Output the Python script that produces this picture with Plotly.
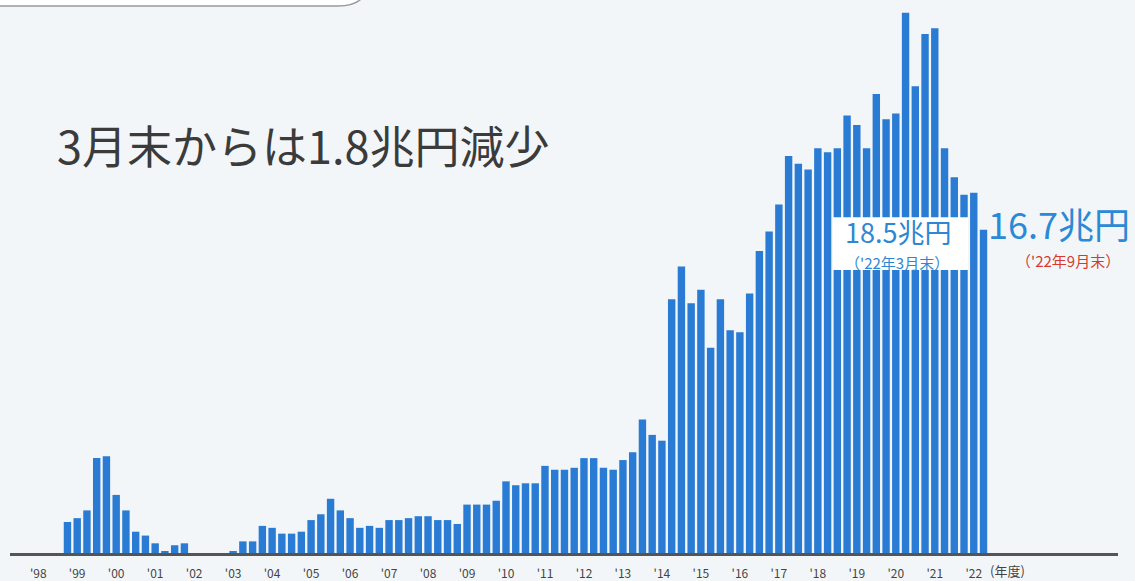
import plotly.graph_objects as go

# Quarter-end balances (兆円), from end of Mar 1999 to end of Sep 2022
balances = [
    1.6, 1.8, 2.2, 4.9, 5.0, 3.0, 2.2, 1.1, 0.9, 0.5,
    0.1, 0.4, 0.5, 0.0, 0.0, 0.0, 0.0, 0.1, 0.6, 0.6,
    1.4, 1.3, 1.0, 1.0, 1.1, 1.7, 2.0, 2.8, 2.2, 1.8,
    1.3, 1.4, 1.3, 1.7, 1.7, 1.8, 1.9, 1.9, 1.7, 1.7,
    1.5, 2.5, 2.5, 2.5, 2.7, 3.7, 3.5, 3.6, 3.6, 4.5,
    4.3, 4.3, 4.4, 4.9, 4.9, 4.4, 4.3, 4.8, 5.2, 6.9,
    6.1, 5.8, 13.1, 14.8, 12.9, 13.6, 10.6, 13.1, 11.5, 11.4,
    13.4, 15.6, 16.6, 18.0, 20.5, 20.1, 19.8, 20.9, 20.7, 20.9,
    22.6, 22.1, 20.9, 23.7, 22.4, 22.7, 27.9, 24.1, 26.8, 27.1,
    20.9, 19.4, 18.5, 18.6, 16.7,
]

# quarter ends (year, month) matching the balances above
quarter_ends = []
year, month = 1999, 3
while (year, month) <= (2022, 9):
    quarter_ends.append((year, month))
    month += 3
    if month > 12:
        month, year = 3, year + 1

tick_years = list(range(1998, 2023))
tick_labels = ["'" + str(y)[2:] for y in tick_years]

# x position in years, with June of each year sitting on the integer
x_pos = [y + (m - 6) / 12 for y, m in quarter_ends]
hover = [f"{y}年{m}月末" for y, m in quarter_ends]

FONT = "Noto Sans CJK JP, Noto Sans, sans-serif"
BLUE = "#2a7bd3"

# pixel helpers for layout decorations (plot area: left 10px, width 1108px, height 555px)
def fx(px):
    return (px - 10) / 1108

def fy(py):
    return 1 - py / 555

fig = go.Figure(
    go.Bar(
        x=x_pos,
        y=balances,
        width=0.19,
        marker=dict(color=BLUE, line=dict(width=0)),
        hovertext=hover,
        hovertemplate="%{hovertext}: %{y}兆円<extra></extra>",
    )
)

fig.update_layout(
    width=1135,
    height=581,
    margin=dict(l=10, r=17, t=0, b=26),
    paper_bgcolor="#f3f6f9",
    plot_bgcolor="rgba(0,0,0,0)",
    showlegend=False,
    font=dict(family=FONT, color="#3b3b3b"),
    xaxis=dict(
        range=[1997.276, 2025.70],
        tickmode="array",
        tickvals=tick_years,
        ticktext=tick_labels,
        tickfont=dict(size=12, color="#444444"),
        ticks="",
        ticklabelstandoff=8,
        showline=True,
        linecolor="#555555",
        linewidth=2.5,
        showgrid=False,
        zeroline=False,
        fixedrange=True,
    ),
    yaxis=dict(
        range=[0, 28.56],
        visible=False,
        fixedrange=True,
    ),
    shapes=[
        # header tab clipped at the top edge
        dict(
            type="path",
            xref="paper", yref="paper",
            path=(
                f"M {fx(-20)},{fy(-40)} L {fx(-20)},{fy(6)} L {fx(338)},{fy(6)} "
                f"Q {fx(360)},{fy(6)} {fx(366)},{fy(-8)} L {fx(372)},{fy(-40)} Z"
            ),
            fillcolor="#ffffff",
            line=dict(color="#9a9a9a", width=1.5),
            layer="above",
        ),
        # white label panel over the bars
        dict(
            type="rect",
            xref="paper", yref="paper",
            x0=fx(833), x1=fx(968), y0=fy(271), y1=fy(218),
            fillcolor="#ffffff",
            line=dict(width=0),
            layer="above",
        ),
    ],
    annotations=[
        dict(
            text="3月末からは1.8兆円減少",
            xref="paper", yref="paper", x=fx(55), y=fy(145),
            xanchor="left", yanchor="middle", showarrow=False,
            font=dict(size=45, color="#3b3b3b", family=FONT),
        ),
        dict(
            text="18.5兆円",
            xref="paper", yref="paper", x=fx(898), y=fy(253),
            xanchor="center", yanchor="bottom", showarrow=False,
            borderpad=0,
            font=dict(size=27, color="#2f86d2", family=FONT),
        ),
        dict(
            text="（'22年3月末）",
            xref="paper", yref="paper", x=fx(897), y=fy(252),
            xanchor="center", yanchor="top", showarrow=False,
            borderpad=0,
            font=dict(size=15, color="#2f86d2", family=FONT),
        ),
        dict(
            text="16.7兆円",
            xref="paper", yref="paper", x=fx(987), y=fy(251),
            xanchor="left", yanchor="bottom", showarrow=False,
            borderpad=0,
            font=dict(size=36, color="#2b89d6", family=FONT),
        ),
        dict(
            text="（'22年9月末）",
            xref="paper", yref="paper", x=fx(1068), y=fy(250),
            xanchor="center", yanchor="top", showarrow=False,
            borderpad=0,
            font=dict(size=15, color="#d63a2f", family=FONT),
        ),
        dict(
            text="(年度)",
            xref="paper", yref="paper", x=fx(988), y=fy(573),
            xanchor="left", yanchor="middle", showarrow=False,
            font=dict(size=13, color="#444444", family=FONT),
        ),
    ],
)

fig.write_html("out.html")
